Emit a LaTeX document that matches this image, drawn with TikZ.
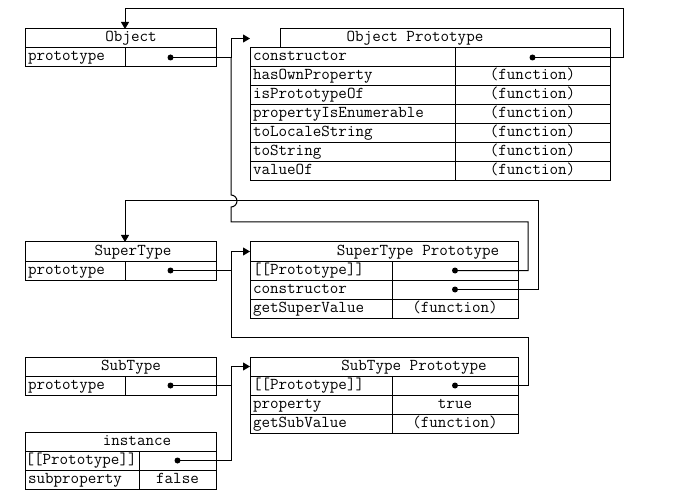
\documentclass[tikz,border=0pt]{standalone}
\usepackage{fontspec}
\usetikzlibrary{positioning,arrows.meta}

\tikzset{
  cell/.style={draw, rectangle, anchor=north west, outer sep=0pt,
    minimum height=19pt, inner xsep=3pt, inner ysep=0pt,
    text height=10pt, text depth=3pt,
    font=\ttfamily\fontsize{16.6}{18}\selectfont},
  hdr/.style={cell, minimum width=#1},
  keycell/.style={cell, text width=#1, align=left},
  valcell/.style={cell, minimum width=#1},
  title/.style={inner sep=0pt, text height=10pt, text depth=3pt,
    font=\ttfamily\fontsize{16.6}{18}\selectfont},
  dot/.style={circle, fill, inner sep=0pt, minimum size=6pt},
  link/.style={->},
}

\begin{document}
\begin{tikzpicture}[x=1pt, y=-1pt, line width=1pt, >={Triangle[length=7pt,width=8pt]}]
  \useasboundingbox (0,0) rectangle (680,497);

  % Object
  \node[hdr=191pt] (objhead) at (25,29) {};
  \node[title] (objtitle) at ([xshift=10.5pt]objhead.center) {Object};
  \node[keycell=94pt, below=0pt of objhead.south west, anchor=north west] (objkey) {prototype};
  \node[valcell=91pt, right=0pt of objkey] (objval) {};
  \node[dot] (objdot) at (objval.center) {};

  % Object Prototype
  \node[hdr=330pt] (ophead) at (280,29) {};
  \node[title] (optitle) at ([xshift=-30pt]ophead.center) {Object Prototype};
  \node[keycell=199pt] (opk1) at (250,48) {constructor};
  \node[valcell=155pt, right=0pt of opk1] (opv1) {};
  \node[dot] (opdot) at (opv1.center) {};
  \node[keycell=199pt, below=0pt of opk1.south west, anchor=north west] (opk2) {hasOwnProperty};
  \node[valcell=155pt, right=0pt of opk2] (opv2) {(function)};
  \node[keycell=199pt, below=0pt of opk2.south west, anchor=north west] (opk3) {isPrototypeOf};
  \node[valcell=155pt, right=0pt of opk3] (opv3) {(function)};
  \node[keycell=199pt, below=0pt of opk3.south west, anchor=north west] (opk4) {propertyIsEnumerable};
  \node[valcell=155pt, right=0pt of opk4] (opv4) {(function)};
  \node[keycell=199pt, below=0pt of opk4.south west, anchor=north west] (opk5) {toLocaleString};
  \node[valcell=155pt, right=0pt of opk5] (opv5) {(function)};
  \node[keycell=199pt, below=0pt of opk5.south west, anchor=north west] (opk6) {toString};
  \node[valcell=155pt, right=0pt of opk6] (opv6) {(function)};
  \node[keycell=199pt, below=0pt of opk6.south west, anchor=north west] (opk7) {valueOf};
  \node[valcell=155pt, right=0pt of opk7] (opv7) {(function)};

  % SuperType
  \node[hdr=191pt] (sthead) at (25,242) {};
  \node[title] (sttitle) at ([xshift=12.5pt]sthead.center) {SuperType};
  \node[keycell=94pt, below=0pt of sthead.south west, anchor=north west] (stkey) {prototype};
  \node[valcell=91pt, right=0pt of stkey] (stval) {};
  \node[dot] (stdot) at (stval.center) {};

  % SuperType Prototype
  \node[hdr=268pt] (spphead) at (250,242) {};
  \node[title] (spptitle) at ([xshift=34pt]spphead.center) {SuperType Prototype};
  \node[keycell=136pt, below=0pt of spphead.south west, anchor=north west] (sppk1) {[[Prototype]]};
  \node[valcell=126pt, right=0pt of sppk1] (sppv1) {};
  \node[dot] (sppdot1) at (sppv1.center) {};
  \node[keycell=136pt, below=0pt of sppk1.south west, anchor=north west] (sppk2) {constructor};
  \node[valcell=126pt, right=0pt of sppk2] (sppv2) {};
  \node[dot] (sppdot2) at (sppv2.center) {};
  \node[keycell=136pt, below=0pt of sppk2.south west, anchor=north west] (sppk3) {getSuperValue};
  \node[valcell=126pt, right=0pt of sppk3] (sppv3) {(function)};

  % SubType
  \node[hdr=191pt] (sbhead) at (25,357) {};
  \node[title] (sbtitle) at ([xshift=10.5pt]sbhead.center) {SubType};
  \node[keycell=94pt, below=0pt of sbhead.south west, anchor=north west] (sbkey) {prototype};
  \node[valcell=91pt, right=0pt of sbkey] (sbval) {};
  \node[dot] (sbdot) at (sbval.center) {};

  % SubType Prototype
  \node[hdr=268pt] (sbphead) at (250,357) {};
  \node[title] (sbptitle) at ([xshift=30pt]sbphead.center) {SubType Prototype};
  \node[keycell=136pt, below=0pt of sbphead.south west, anchor=north west] (sbpk1) {[[Prototype]]};
  \node[valcell=126pt, right=0pt of sbpk1] (sbpv1) {};
  \node[dot] (sbpdot) at (sbpv1.center) {};
  \node[keycell=136pt, below=0pt of sbpk1.south west, anchor=north west] (sbpk2) {property};
  \node[valcell=126pt, right=0pt of sbpk2] (sbpv2) {true};
  \node[keycell=136pt, below=0pt of sbpk2.south west, anchor=north west] (sbpk3) {getSubValue};
  \node[valcell=126pt, right=0pt of sbpk3] (sbpv3) {(function)};

  % instance
  \node[hdr=191pt] (inshead) at (25,432) {};
  \node[title] (institle) at ([xshift=16.5pt]inshead.center) {instance};
  \node[keycell=113pt, inner xsep=0.5pt, below=0pt of inshead.south west, anchor=north west] (inskey1) {[[Prototype]]};
  \node[valcell=77pt, right=0pt of inskey1] (insval1) {};
  \node[dot] (insdot) at (insval1.center) {};
  \node[keycell=108pt, below=0pt of inskey1.south west, anchor=north west] (inskey2) {subproperty};
  \node[valcell=77pt, right=0pt of inskey2] (insval2) {false};

  % links
  \coordinate (bus) at (231,0);
  \draw[link] (opdot.center) -| (623,9) -| (objhead.north -| objkey.east);
  \draw[link] (objdot.center) -| (bus |- ophead.west) -- (ophead.west -| opk1.west);
  \draw (sppdot1.center) -| (528,222) -- (231,222) -- (231,207)
    arc[start angle=-90, end angle=90, radius=6pt] -- (bus |- objdot.center);
  \draw[link] (sppdot2.center) -| (538,201) -| (sthead.north -| stkey.east);
  \draw[link] (stdot.center) -| (bus |- spphead.west) -- (spphead.west);
  \draw (sbpdot.center) -| (528,337) -| (bus |- stdot.center);
  \draw[link] (sbdot.center) -| (bus |- sbphead.west) -- (sbphead.west);
  \draw (insdot.center) -| (bus |- sbdot.center);
\end{tikzpicture}
\end{document}
